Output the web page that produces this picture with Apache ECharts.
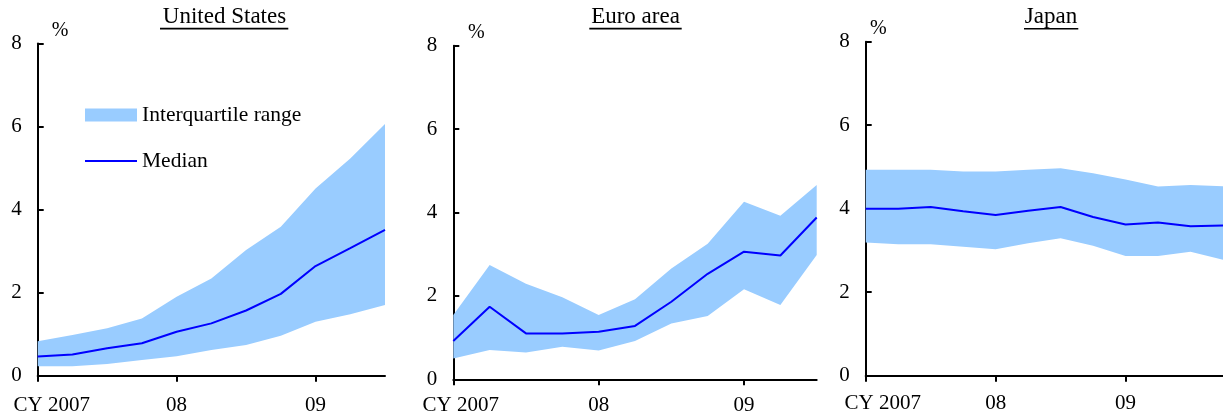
<!DOCTYPE html>
<html>
<head>
<meta charset="utf-8">
<script src="https://cdn.jsdelivr.net/npm/echarts@6/dist/echarts.min.js"></script>
<style>
  html, body { margin: 0; padding: 0; background: #fff; }
  #chart { width: 1223px; height: 418px; }
</style>
</head>
<body>
<div id="chart"></div>
<script>
// quarters, CY2007 Q1 .. 2009
const quarters = ['2007Q1', '2007Q2', '2007Q3', '2007Q4', '2008Q1', '2008Q2', '2008Q3', '2008Q4', '2009Q1', '2009Q2', '2009Q3', '2009Q4'];
const quartersUS = quarters.slice(0, 11);
const quartersEA = quarters.slice(0, 11);
const quartersJP = quarters.slice(0, 12);
const yearLabels = { '2007Q1': 'CY 2007', '2008Q1': '08', '2009Q1': '09' };

// United States
const usLower  = [0.23, 0.23, 0.28, 0.38, 0.47, 0.62, 0.74, 0.96, 1.30, 1.48, 1.70];
const usUpper  = [0.83, 0.98, 1.14, 1.38, 1.90, 2.34, 3.03, 3.59, 4.51, 5.23, 6.06];
const usMedian = [0.46, 0.51, 0.66, 0.78, 1.06, 1.26, 1.57, 1.97, 2.64, 3.07, 3.51];

// Euro area
const eaLower  = [0.50, 0.70, 0.64, 0.78, 0.69, 0.92, 1.34, 1.52, 2.16, 1.78, 2.98];
const eaUpper  = [1.54, 2.74, 2.29, 1.97, 1.54, 1.92, 2.66, 3.25, 4.26, 3.92, 4.66];
const eaMedian = [0.92, 1.74, 1.10, 1.10, 1.14, 1.28, 1.86, 2.53, 3.06, 2.97, 3.88];

// Japan
const jpLower  = [3.19, 3.15, 3.15, 3.09, 3.03, 3.17, 3.29, 3.11, 2.87, 2.87, 2.97, 2.78];
const jpUpper  = [4.93, 4.93, 4.93, 4.89, 4.89, 4.93, 4.97, 4.85, 4.70, 4.53, 4.57, 4.54];
const jpMedian = [4.00, 4.00, 4.04, 3.94, 3.85, 3.95, 4.04, 3.80, 3.62, 3.67, 3.58, 3.60];

const panelTitles = ['United States', 'Euro area', 'Japan'];

const FONT = '"Liberation Serif", "Times New Roman", serif';
const BAND = '#99CCFF';
const LINE = '#0000FF';

const chart = echarts.init(document.getElementById('chart'));

const grids = [
  { left: 37.7, top: 43.5, width: 347.3, height: 332.2 },
  { left: 453.3, top: 45.7, width: 363.4, height: 333.6 },
  { left: 865.7, top: 41.7, width: 366.6, height: 334.0 }
];

const firstShift = [28, 15, 34];
const pctPad = [14, 14.7, 4.3];
const xMargin = [19, 16, 17];

function xAxis(i, cats) {
  return {
    type: 'category', gridIndex: i, data: cats, boundaryGap: false,
    axisLine: { lineStyle: { color: '#000', width: 2 } },
    axisTick: { show: true, interval: 3, inside: false, length: 6, lineStyle: { color: '#000', width: 2 } },
    axisLabel: {
      interval: 3, margin: xMargin[i], color: '#000', fontFamily: FONT, fontSize: 21,
      formatter: v => v === '2007Q1' ? '{first|' + yearLabels[v] + '}' : (yearLabels[v] || ''),
      rich: { first: { fontFamily: FONT, fontSize: 21, color: '#000', padding: [0, 0, 0, firstShift[i]] } }
    },
    splitLine: { show: false }
  };
}

function yAxis(i) {
  return {
    type: 'value', gridIndex: i, min: 0, max: 8, interval: 2,
    name: '%', nameLocation: 'end', nameGap: 3,
    nameTextStyle: { fontFamily: FONT, fontSize: 20, color: '#000', align: 'left', padding: [0, 0, 0, pctPad[i]] },
    axisLine: { show: true, lineStyle: { color: '#000', width: 2 } },
    axisTick: { show: true, inside: true, length: 6, lineStyle: { color: '#000', width: 2 } },
    axisLabel: { margin: 16, color: '#000', fontFamily: FONT, fontSize: 21 },
    splitLine: { show: false }
  };
}

function bandSeries(i, lower, upper, median) {
  const key = 'band' + i;
  return [
    {
      type: 'line', xAxisIndex: i, yAxisIndex: i, stack: key, data: lower,
      symbol: 'none', lineStyle: { opacity: 0 }, silent: true
    },
    {
      name: 'Interquartile range', type: 'line', xAxisIndex: i, yAxisIndex: i, stack: key,
      data: upper.map((u, k) => +(u - lower[k]).toFixed(2)),
      symbol: 'none', lineStyle: { opacity: 0 }, itemStyle: { color: BAND },
      areaStyle: { color: BAND, opacity: 1 }, silent: true
    },
    {
      name: 'Median', type: 'line', xAxisIndex: i, yAxisIndex: i, data: median,
      symbol: 'none', lineStyle: { color: LINE, width: 2 }, itemStyle: { color: LINE }, z: 5
    }
  ];
}

const titleCenters = [224.5, 635.5, 1051];
const underlines = [
  { x: 160, w: 128.3, y: 27.8 },
  { x: 589.3, w: 92.4, y: 27.8 },
  { x: 1024, w: 54.3, y: 28 }
];

chart.setOption({
  animation: false,
  backgroundColor: '#fff',
  title: panelTitles.map((t, i) => ({
    text: t, left: titleCenters[i], top: 5, textAlign: 'center', padding: 0,
    textStyle: { fontFamily: FONT, fontSize: 23, fontWeight: 'normal', color: '#000' }
  })),
  legend: {
    orient: 'vertical', left: 85, top: 104, padding: 0, itemWidth: 52, itemHeight: 13, itemGap: 24,
    textStyle: { fontFamily: FONT, fontSize: 21.5, color: '#000' },
    data: [
      { name: 'Interquartile range', icon: 'rect', itemStyle: { color: BAND } },
      { name: 'Median', icon: 'path://M0,0 H52 V2 H0 Z', itemStyle: { color: LINE } }
    ],
    selectedMode: false
  },
  grid: grids,
  xAxis: [xAxis(0, quartersUS), xAxis(1, quartersEA), xAxis(2, quartersJP)],
  yAxis: [yAxis(0), yAxis(1), yAxis(2)],
  series: [
    ...bandSeries(0, usLower, usUpper, usMedian),
    ...bandSeries(1, eaLower, eaUpper, eaMedian),
    ...bandSeries(2, jpLower, jpUpper, jpMedian)
  ],
  graphic: underlines.map(u => ({
    type: 'rect', shape: { x: u.x, y: u.y, width: u.w, height: 1.6 }, style: { fill: '#000' }, silent: true
  }))
});
</script>
</body>
</html>
